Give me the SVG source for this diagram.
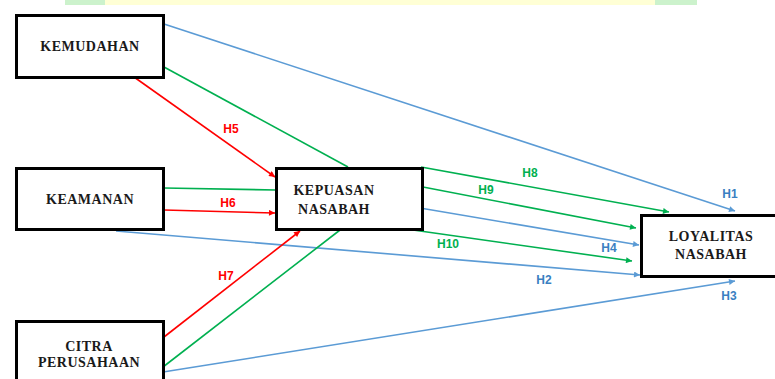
<svg xmlns="http://www.w3.org/2000/svg" width="775" height="379" viewBox="0 0 775 379">
<style>
.box{fill:#fff;stroke:#000;stroke-width:3}
.nt{font-family:'Liberation Serif','DejaVu Serif',serif;font-weight:700;font-size:14px;letter-spacing:0.5px;fill:#1a1a1a;text-anchor:middle}
.lb{font-family:'Liberation Sans',Arial,sans-serif;font-weight:700;font-size:12px;text-anchor:middle}
.b{stroke:#5B9BD5;stroke-width:1.6;fill:none}
.g{stroke:#00B050;stroke-width:1.6;fill:none}
.r{stroke:#FF0000;stroke-width:1.6;fill:none}
</style>
<defs>
<marker id="ab" viewBox="0 0 10 10" refX="10" refY="5" markerWidth="7" markerHeight="6" markerUnits="userSpaceOnUse" orient="auto"><path d="M0,0 L10,5 L0,10 z" fill="#5B9BD5"/></marker>
<marker id="ag" viewBox="0 0 10 10" refX="10" refY="5" markerWidth="7" markerHeight="6" markerUnits="userSpaceOnUse" orient="auto"><path d="M0,0 L10,5 L0,10 z" fill="#00B050"/></marker>
<marker id="ar" viewBox="0 0 10 10" refX="10" refY="5" markerWidth="7" markerHeight="6" markerUnits="userSpaceOnUse" orient="auto"><path d="M0,0 L10,5 L0,10 z" fill="#FF0000"/></marker>
</defs>
<g id="topstrip">
<rect x="65" y="0" width="40" height="5" fill="#CCF2CC"/>
<rect x="105" y="0" width="550" height="5" fill="#FFFFD5"/>
<rect x="655" y="0" width="42" height="5" fill="#CCF2CC"/>
</g>
<g id="connectors">
<line class="b" x1="164" y1="24" x2="735" y2="211" marker-end="url(#ab)"/>
<line class="g" x1="164" y1="67" x2="348" y2="167"/>
<line class="r" x1="134" y1="77" x2="275" y2="177" marker-end="url(#ar)"/>
<line class="g" x1="164" y1="188" x2="276" y2="190"/>
<line class="r" x1="164" y1="210" x2="275" y2="213" marker-end="url(#ar)"/>
<line class="b" x1="116" y1="231" x2="640" y2="275" marker-end="url(#ab)"/>
<line class="r" x1="164" y1="337" x2="300" y2="231" marker-end="url(#ar)"/>
<line class="g" x1="163" y1="367" x2="340" y2="230"/>
<line class="b" x1="163" y1="372" x2="735" y2="281" marker-end="url(#ab)"/>
<line class="g" x1="421" y1="167" x2="669" y2="212" marker-end="url(#ag)"/>
<line class="g" x1="423" y1="187" x2="636" y2="228" marker-end="url(#ag)"/>
<line class="b" x1="420" y1="208" x2="639" y2="245" marker-end="url(#ab)"/>
<line class="g" x1="413" y1="230" x2="632" y2="261" marker-end="url(#ag)"/>
<text class="lb" x="231" y="133" fill="#FF0000">H5</text>
<text class="lb" x="228" y="207" fill="#FF0000">H6</text>
<text class="lb" x="226" y="280" fill="#FF0000">H7</text>
<text class="lb" x="530" y="177" fill="#00B050">H8</text>
<text class="lb" x="486" y="194" fill="#00B050">H9</text>
<text class="lb" x="448" y="248" fill="#00B050">H10</text>
<text class="lb" x="609" y="252" fill="#3A7FC1">H4</text>
<text class="lb" x="730" y="198" fill="#3A7FC1">H1</text>
<text class="lb" x="544" y="284" fill="#3A7FC1">H2</text>
<text class="lb" x="729" y="300" fill="#3A7FC1">H3</text>
</g>
<g id="kemudahan">
<rect class="box" x="16.5" y="15.5" width="147" height="62"/>
<text class="nt" x="90" y="51">KEMUDAHAN</text>
</g>
<g id="keamanan">
<rect class="box" x="16.5" y="168.5" width="147" height="61"/>
<text class="nt" x="90" y="204">KEAMANAN</text>
</g>
<g id="citra">
<rect class="box" x="16.5" y="321.5" width="147" height="70"/>
<text class="nt" x="89" y="351">CITRA</text>
<text class="nt" x="89" y="367">PERUSAHAAN</text>
</g>
<g id="kepuasan">
<rect class="box" x="276.5" y="168.5" width="146" height="61"/>
<text class="nt" x="334" y="195">KEPUASAN</text>
<text class="nt" x="334" y="214">NASABAH</text>
</g>
<g id="loyalitas">
<rect class="box" x="641.5" y="215.5" width="140" height="61"/>
<text class="nt" x="711" y="241">LOYALITAS</text>
<text class="nt" x="711" y="259">NASABAH</text>
</g>
</svg>
